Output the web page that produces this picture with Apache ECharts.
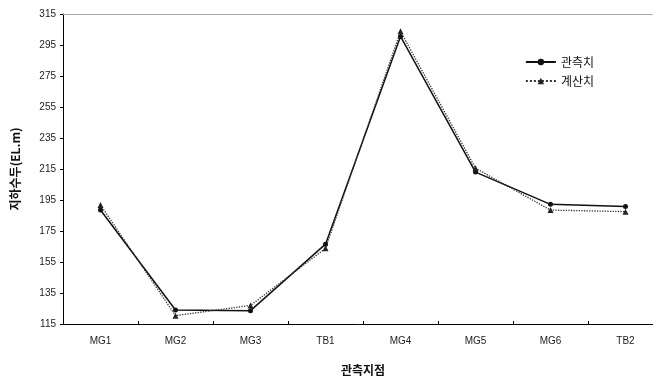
<!DOCTYPE html>
<html>
<head>
<meta charset="utf-8">
<script src="https://cdn.jsdelivr.net/npm/echarts@6/dist/echarts.min.js"></script>
<style>html,body{margin:0;padding:0;background:#fff}#c{width:653px;height:378px}</style>
</head>
<body>
<div id="c"></div>
<script>
const categories = ['MG1','MG2','MG3','TB1','MG4','MG5','MG6','TB2'];
const observed = [188.5, 124, 123.6, 166.5, 300.5, 213, 192.2, 190.8];
const calculated = [191.8, 120.4, 127, 163.8, 303.8, 215.5, 188.5, 187.5];
const yTicks = [115,135,155,175,195,215,235,255,275,295,315];
const seriesNames = ['관측치','계산치'];
const xTitle = '관측지점';
const yTitle = '지하수두(EL.m)';

const chart = echarts.init(document.getElementById('c'));
const labelFont = {fontFamily:'Liberation Sans', fontSize:10, color:'#222'};
chart.setOption({
  animation:false,
  backgroundColor:'#fff',
  grid:{left:63, top:14, bottom:54, right:-10, outerBoundsMode:'none'},
  legend:{
    data:seriesNames, orient:'vertical', right:54, top:51, itemGap:7,
    itemWidth:30, itemHeight:8,
    textStyle:{fontFamily:'Noto Sans CJK KR', fontSize:12, color:'#111'}
  },
  xAxis:[{
    type:'category', data:categories, boundaryGap:true,
    axisLine:{lineStyle:{color:'#000', width:1}},
    axisTick:{show:true, inside:true, length:3, lineStyle:{color:'#000'}},
    axisLabel:Object.assign({margin:12}, labelFont),
    name:xTitle, nameLocation:'middle', nameGap:40,
    nameTextStyle:{fontFamily:'Noto Sans CJK KR', fontSize:12, fontWeight:'bold', color:'#111'}
  },{
    type:'category', data:categories, position:'top',
    axisLine:{lineStyle:{color:'#999', width:1, type:'dotted'}},
    axisTick:{show:false}, axisLabel:{show:false}
  }],
  yAxis:{
    type:'value', min:115, max:315,
    axisLine:{show:true, lineStyle:{color:'#000', width:1}},
    axisTick:{show:true, length:3, customValues:yTicks, lineStyle:{color:'#000'}},
    axisLabel:Object.assign({customValues:yTicks, margin:7}, labelFont),
    splitLine:{show:false},
    name:yTitle, nameLocation:'middle', nameGap:42, nameRotate:90,
    nameTextStyle:{fontFamily:'Noto Sans CJK KR', fontSize:12, fontWeight:'bold', color:'#111'}
  },
  series:[{
    name:seriesNames[0], type:'line', data:observed,
    symbol:'circle', symbolSize:5,
    lineStyle:{color:'#111', width:1.5},
    itemStyle:{color:'#111'}
  },{
    name:seriesNames[1], type:'line', data:calculated,
    symbol:'triangle', symbolSize:6,
    lineStyle:{color:'#333', width:1.3, type:'dotted'},
    itemStyle:{color:'#222'}
  }]
});
</script>
</body>
</html>
